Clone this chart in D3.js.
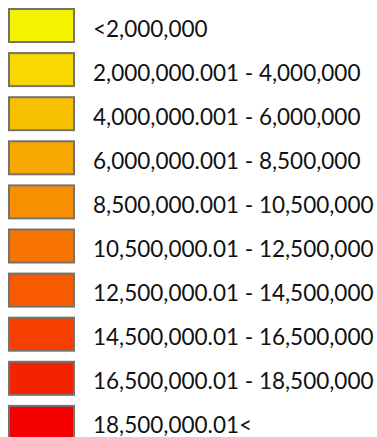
<!DOCTYPE html>
<html>
<head>
<meta charset="utf-8">
<script src="https://cdn.jsdelivr.net/npm/d3@7"></script>
<style>
  html, body { margin: 0; padding: 0; background: #ffffff; }
  svg { display: block; }
</style>
</head>
<body>
<svg id="legend" width="377" height="437"></svg>
<script>
// Class breaks of the choropleth legend, lowest to highest
const classLabels = [
  "<2,000,000",
  "2,000,000.001 - 4,000,000",
  "4,000,000.001 - 6,000,000",
  "6,000,000.001 - 8,500,000",
  "8,500,000.001 - 10,500,000",
  "10,500,000.01 - 12,500,000",
  "12,500,000.01 - 14,500,000",
  "14,500,000.01 - 16,500,000",
  "16,500,000.01 - 18,500,000",
  "18,500,000.01<"
];
const classColors = [
  "#f7f200", "#f7d900", "#f7c100", "#f7a800", "#f78f00",
  "#f77400", "#f75a00", "#f73f00", "#f52200", "#f50000"
];

const svg = d3.select("#legend");

// One row per class, stacked vertically
const rowScale = d3.scaleBand()
  .domain(d3.range(classLabels.length))
  .range([9, 9 + 44.1 * classLabels.length])
  .paddingInner(0);

const swatchW = 65, swatchH = 33;

const rows = svg.selectAll("g.row")
  .data(classLabels.map((label, i) => ({ label, color: classColors[i], i })))
  .join("g")
  .attr("class", "row")
  .attr("transform", d => `translate(0,${rowScale(d.i)})`);

rows.append("rect")
  .attr("x", 9)
  .attr("y", 0)
  .attr("width", swatchW)
  .attr("height", swatchH)
  .attr("fill", d => d.color)
  .attr("stroke", "#737373")
  .attr("stroke-width", 2);

rows.append("text")
  .attr("x", 93)
  .attr("y", 27.5)
  .attr("font-family", "'Gill Sans', Lato, 'Open Sans', sans-serif")
  .attr("font-size", 22.5)
  .attr("fill", "#111111")
  .text(d => d.label);
</script>
</body>
</html>
